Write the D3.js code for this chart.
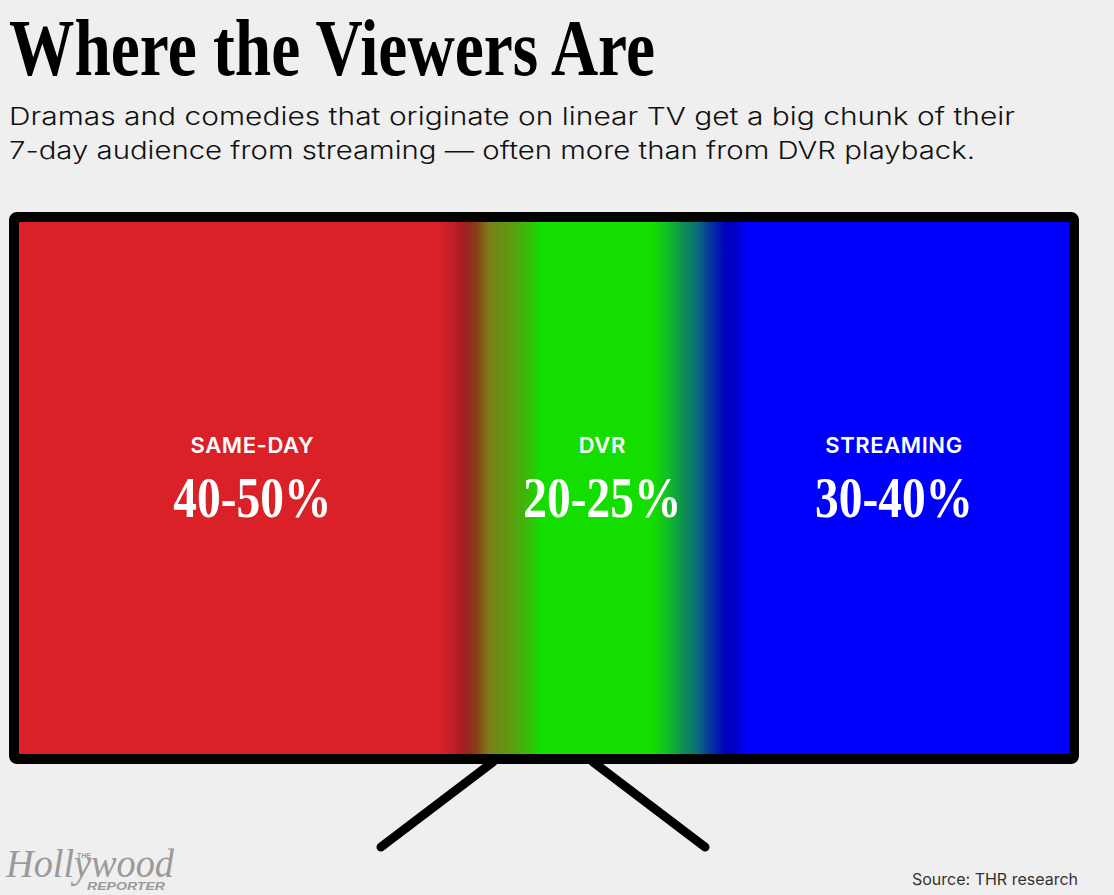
<!DOCTYPE html>
<html>
<head>
<meta charset="utf-8">
<script src="https://cdn.jsdelivr.net/npm/d3@7"></script>
<style>
  body { margin: 0; background: #efefef; }
  svg { display: block; }
</style>
</head>
<body>
<div id="tv"></div>
<script>

// data

var categories = ["SAME-DAY", "DVR", "STREAMING"],
    shareLow = [40, 20, 30],
    shareHigh = [50, 25, 40];

var title = "Where the Viewers Are",
    subtitle = ["Dramas and comedies that originate on linear TV get a big chunk of their",
                "7-day audience from streaming \u2014 often more than from DVR playback."],
    source = "Source: THR research";

// TV chart

function tvChart() {

  // default values that can be changed by the caller

  var width = 1114,
      height = 895,
      chart_id = [],
      data = [];

  function chart(selection) {
    selection.each(function() {

      var screenLeft = 19, screenRight = 1069,
          screenTop = 222, screenBottom = 754,
          bezel = 10;

      // x scale across the screen, sections sized by the low end of each range

      var total = d3.sum(data, function(d) { return d.low; });

      var x = d3.scaleLinear()
        .domain([0, total])
        .range([screenLeft, screenRight]);

      var cum = 0;
      data.forEach(function(d) {
        d.x0 = cum;
        cum += d.low;
        d.x1 = cum;
      });

      var dom = d3.select("#" + chart_id);

      var svg = dom.append("svg")
        .attr("width", width)
        .attr("height", height);

      // title and subtitle

      svg.append("text")
        .attr("x", 9)
        .attr("y", 75)
        .attr("textLength", 646)
        .attr("lengthAdjust", "spacingAndGlyphs")
        .style("font-family", "'Liberation Serif', serif")
        .style("font-weight", "bold")
        .style("font-size", "80px")
        .style("fill", "#000")
        .text(title);

      svg.selectAll(".subtitle")
        .data(subtitle)
        .enter()
          .append("text")
            .attr("class", "subtitle")
            .attr("x", 9)
            .attr("y", function(d, i) { return 125 + i * 34; })
            .attr("textLength", function(d, i) { return i == 0 ? 1006 : 966; })
            .attr("lengthAdjust", "spacingAndGlyphs")
            .style("font-family", "Inter, sans-serif")
            .style("font-weight", 300)
            .style("font-size", "24px")
            .style("fill", "#111")
            .text(function(d) { return d; });

      // screen gradient, stops placed around section boundaries

      var b1 = x(data[0].x1),
          b2 = x(data[1].x1);

      var stops = [
        [screenLeft, "#da2128"],
        [b1 - 49, "#da2128"],
        [b1 - 36, "#c62027"],
        [b1 - 21, "#a01f21"],
        [b1 - 9, "#8a4019"],
        [b1 + 4, "#7a8016"],
        [b1 + 24, "#5e9a10"],
        [b1 + 46, "#2ec406"],
        [b1 + 54, "#14dd00"],
        [b2 - 66, "#14dd00"],
        [b2 - 52, "#12c025"],
        [b2 - 36, "#0e9050"],
        [b2 - 22, "#0a6e78"],
        [b2 - 9, "#05389c"],
        [b2 + 6, "#0000c0"],
        [b2 + 16, "#0000c8"],
        [b2 + 28, "#0000ff"],
        [screenRight, "#0000ff"]
      ];

      var grad = svg.append("defs")
        .append("linearGradient")
          .attr("id", "screenGrad")
          .attr("gradientUnits", "userSpaceOnUse")
          .attr("x1", screenLeft)
          .attr("x2", screenRight)
          .attr("y1", 0)
          .attr("y2", 0);

      grad.selectAll("stop")
        .data(stops)
        .enter()
          .append("stop")
            .attr("offset", function(d) { return (d[0] - screenLeft) / (screenRight - screenLeft); })
            .attr("stop-color", function(d) { return d[1]; });

      // stand

      var legs = [[493, 381], [593, 705]];

      svg.selectAll(".leg")
        .data(legs)
        .enter()
          .append("line")
            .attr("class", "leg")
            .attr("x1", function(d) { return d[0]; })
            .attr("y1", screenBottom + 8)
            .attr("x2", function(d) { return d[1]; })
            .attr("y2", 847)
            .attr("stroke", "#000")
            .attr("stroke-width", 9)
            .attr("stroke-linecap", "round");

      // screen and bezel

      svg.append("rect")
        .attr("x", screenLeft)
        .attr("y", screenTop)
        .attr("width", screenRight - screenLeft)
        .attr("height", screenBottom - screenTop)
        .attr("fill", "url(#screenGrad)");

      svg.append("rect")
        .attr("x", screenLeft - bezel / 2)
        .attr("y", screenTop - bezel / 2)
        .attr("width", screenRight - screenLeft + bezel)
        .attr("height", screenBottom - screenTop + bezel)
        .attr("rx", 3)
        .attr("fill", "none")
        .attr("stroke", "#000")
        .attr("stroke-width", bezel);

      // labels

      var label = svg.selectAll(".label")
        .data(data)
        .enter()
          .append("g")
            .attr("class", "label")
            .attr("transform", function(d) { return "translate(" + x((d.x0 + d.x1) / 2) + ",0)"; });

      label.append("text")
        .attr("y", 453)
        .style("text-anchor", "middle")
        .style("font-family", "Inter, sans-serif")
        .style("font-weight", 600)
        .style("font-size", "22px")
        .style("letter-spacing", "0.6px")
        .style("fill", "#fff")
        .text(function(d) { return d.name; });

      label.append("text")
        .attr("y", 517)
        .attr("textLength", 158)
        .attr("lengthAdjust", "spacingAndGlyphs")
        .style("text-anchor", "middle")
        .style("font-family", "'Liberation Serif', serif")
        .style("font-weight", "bold")
        .style("font-size", "58px")
        .style("fill", "#fff")
        .text(function(d) { return d.low + "-" + d.high + "%"; });

      // source

      svg.append("text")
        .attr("x", 1078)
        .attr("y", 885)
        .style("text-anchor", "end")
        .style("font-family", "Inter, sans-serif")
        .style("font-size", "16px")
        .style("fill", "#333")
        .text(source);

      // logo

      var logo = svg.append("g")
        .style("fill", "#9a9a9a");

      logo.append("text")
        .attr("x", 6)
        .attr("y", 877)
        .attr("textLength", 168)
        .attr("lengthAdjust", "spacingAndGlyphs")
        .style("font-family", "'Liberation Serif', serif")
        .style("font-style", "italic")
        .style("font-size", "40px")
        .text("Hollywood");

      logo.append("text")
        .attr("x", 77)
        .attr("y", 858)
        .style("font-family", "'Liberation Sans', sans-serif")
        .style("font-weight", "bold")
        .style("font-size", "7px")
        .text("THE");

      logo.append("text")
        .attr("x", 87)
        .attr("y", 890)
        .attr("textLength", 78)
        .attr("lengthAdjust", "spacingAndGlyphs")
        .style("font-family", "'Liberation Sans', sans-serif")
        .style("font-weight", "bold")
        .style("font-style", "italic")
        .style("font-size", "11px")
        .text("REPORTER");

    })
  };

  // these allow the default values to be changed

  chart.chart_id = function(value) {
    if (!arguments.length) return chart_id;
    chart_id = value;
    return chart;
  };

  chart.data = function(value) {
    if (!arguments.length) return data;
    data = value;
    return chart;
  };

  return chart;

};

var tvData = categories.map(function(c, i) {
  return { name: c, low: shareLow[i], high: shareHigh[i] };
});

var tv = tvChart()
  .chart_id("tv")
  .data(tvData);

d3.select("#tv").call(tv);

</script>
</body>
</html>
